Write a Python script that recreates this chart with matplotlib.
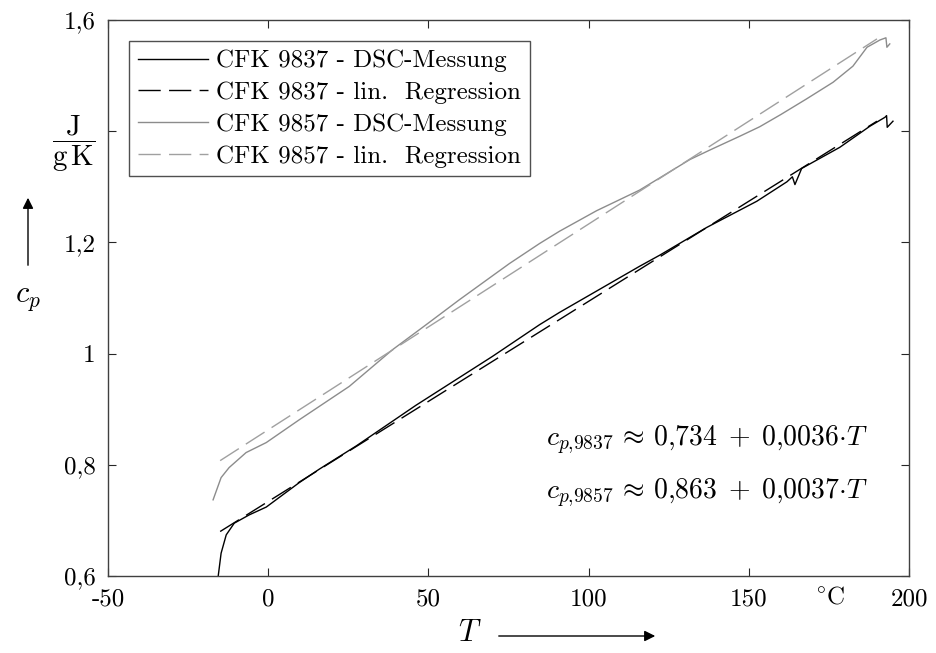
import matplotlib
matplotlib.use("Agg")
import matplotlib.pyplot as plt

t_9837 = [-15.6, -14.7, -13.1, -10.6, -5.9, -0.6, 9.7, 15.9, 27.5, 46.1, 70.0, 84.7, 90.9,
          115.9, 122.2, 136.9, 152.5, 161.9, 163.6, 164.4, 166.5, 178.4, 187.8, 192.5,
          193.0, 193.2, 195.0]
cp_9837 = [0.600, 0.641, 0.674, 0.695, 0.710, 0.724, 0.768, 0.792, 0.834, 0.907, 0.995, 1.052, 1.074,
           1.157, 1.177, 1.227, 1.274, 1.309, 1.318, 1.304, 1.333, 1.371, 1.409, 1.425,
           1.428, 1.407, 1.418]

t_9857 = [-17.2, -14.7, -12.2, -6.9, -0.6, 9.7, 25.3, 38.8, 50.0, 59.7, 75.3, 84.7, 90.9,
          102.5, 115.9, 122.2, 131.6, 137.8, 147.2, 153.4, 160.0, 168.0, 176.3, 182.5, 186.9,
          190.9, 192.8, 193.1, 194.0]
cp_9857 = [0.737, 0.777, 0.795, 0.822, 0.840, 0.881, 0.941, 1.007, 1.055, 1.097, 1.162, 1.198, 1.220,
           1.257, 1.294, 1.316, 1.349, 1.366, 1.391, 1.408, 1.430, 1.458, 1.488, 1.517, 1.551,
           1.564, 1.568, 1.551, 1.557]

# lineare Regression: cp = a + b*T
a_9837, b_9837 = 0.734, 0.0036
a_9857, b_9857 = 0.863, 0.0037
t_reg = [-15, 190]

x_ticks = [-50, 0, 50, 100, 150, 200]
x_ticklabels = ["-50", "0", "50", "100", "150", "200"]
y_ticks = [0.6, 0.8, 1.0, 1.2, 1.4, 1.6]
y_ticklabels = ["0,6", "0,8", "1", "1,2", r"$\dfrac{\mathrm{J}}{\mathrm{g\,K}}$", "1,6"]

plt.rcParams["font.family"] = ["cmr10", "DejaVu Serif"]
plt.rcParams["mathtext.fontset"] = "cm"
plt.rcParams["axes.unicode_minus"] = False
plt.rcParams["font.size"] = 18

W, H = 937, 653
fig = plt.figure(figsize=(W / 100, H / 100), dpi=100)
ax = fig.add_axes([108 / W, 1 - 576 / H, (909 - 108) / W, (576 - 20) / H])


def px(x, y):
    # Pixel (von oben links) -> figure fraction
    return (x / W, 1 - y / H)


ax.plot(t_9837, cp_9837, color="black", lw=1.0, label="CFK 9837 - DSC-Messung")
ax.plot(t_reg, [a_9837 + b_9837 * t for t in t_reg], color="black", lw=1.0,
        linestyle=(0, (16, 6)), label="CFK 9837 - lin.  Regression")
ax.plot(t_9857, cp_9857, color="#8c8c8c", lw=1.0, label="CFK 9857 - DSC-Messung")
ax.plot(t_reg, [a_9857 + b_9857 * t for t in t_reg], color="#a0a0a0", lw=1.0,
        linestyle=(0, (16, 6)), label="CFK 9857 - lin.  Regression")

ax.set_xlim(-50, 200)
ax.set_ylim(0.6, 1.6)
ax.set_xticks(x_ticks)
ax.set_xticklabels(x_ticklabels)
ax.set_yticks(y_ticks)
ax.set_yticklabels(y_ticklabels)
ax.tick_params(direction="in", length=6, width=0.8, top=True, right=True,
               color="#262626", labelsize=18, pad=9)
ax.get_yticklabels()[4].set_fontsize(21)
for s in ax.spines.values():
    s.set_color("#404040")
    s.set_linewidth(1.0)

leg = ax.legend(loc="upper left", bbox_to_anchor=(0.026, 0.962), fontsize=18,
                handlelength=2.8, handletextpad=0.35, labelspacing=0.37,
                borderpad=0.35, borderaxespad=0, fancybox=False, framealpha=1)
leg.get_frame().set_edgecolor("#505050")
leg.get_frame().set_linewidth(1.0)

ax.text(0.948, 0.245, r"$c_{p{,}9837} \,\approx\, 0{,}734\; +\; 0{,}0036{\cdot}T$",
        transform=ax.transAxes, ha="right", va="center", fontsize=20)
ax.text(0.948, 0.150, r"$c_{p{,}9857} \,\approx\, 0{,}863\; +\; 0{,}0037{\cdot}T$",
        transform=ax.transAxes, ha="right", va="center", fontsize=20)

# Achsenbeschriftungen mit Pfeilen
fig.text(*px(28, 299), r"$c_p$", ha="center", va="center", fontsize=22)
ax.annotate("", xy=px(28, 195), xytext=px(28, 268), xycoords="figure fraction",
            textcoords="figure fraction",
            arrowprops=dict(arrowstyle="-|>", color="black", lw=1.0, mutation_scale=16))
fig.text(*px(470, 633), r"$T$", ha="center", va="center", fontsize=22)
ax.annotate("", xy=px(658, 636), xytext=px(496, 636), xycoords="figure fraction",
            textcoords="figure fraction",
            arrowprops=dict(arrowstyle="-|>", color="black", lw=1.0, mutation_scale=16))
fig.text(*px(830, 597), r"$^{\circ}\mathrm{C}$", ha="center", va="center", fontsize=18)

fig.savefig("out.png", dpi=100)
